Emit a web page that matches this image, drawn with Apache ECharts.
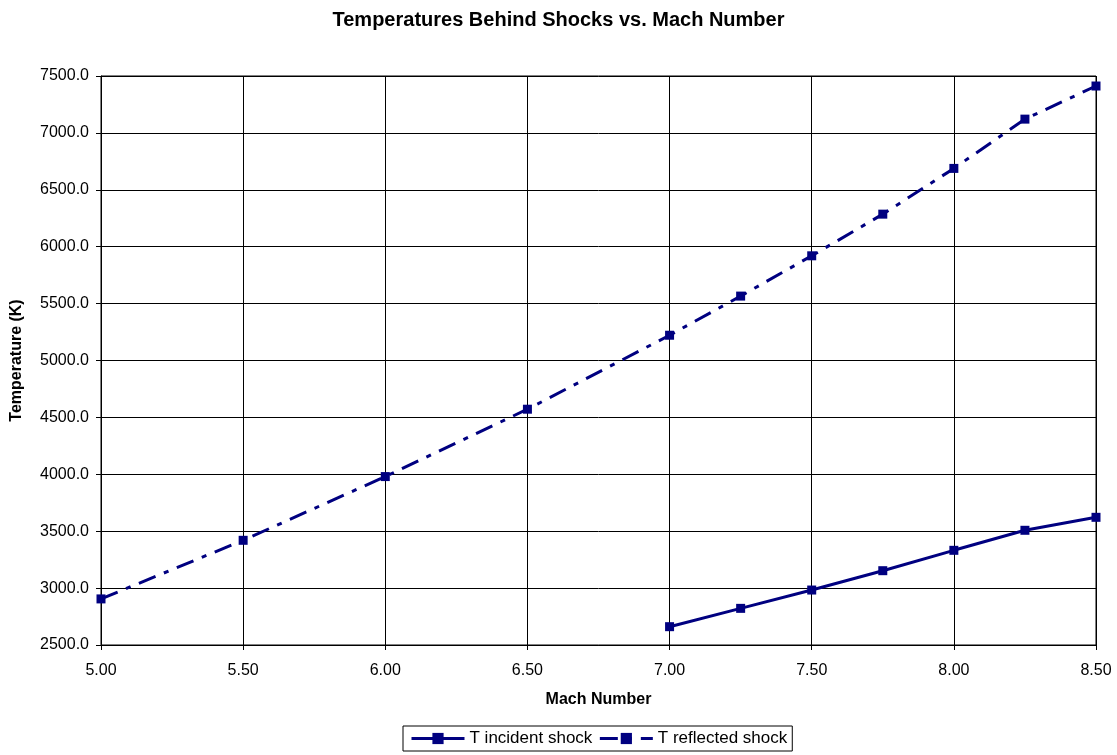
<!DOCTYPE html>
<html>
<head>
<meta charset="utf-8">
<script src="https://cdn.jsdelivr.net/npm/echarts@6/dist/echarts.min.js"></script>
<style>
html,body{margin:0;padding:0;background:#fff;}
#chart{width:1117px;height:755px;}
</style>
</head>
<body>
<div id="chart"></div>
<script>
const titleText = 'Temperatures Behind Shocks vs. Mach Number';
const xAxisName = 'Mach Number';
const yAxisName = 'Temperature (K)';
const seriesNames = ['T incident shock', 'T reflected shock'];
const machIncident = [7.0, 7.25, 7.5, 7.75, 8.0, 8.25, 8.5];
const tIncident = [2661, 2822, 2983, 3153, 3332, 3508, 3622];
const machReflected = [5.0, 5.5, 6.0, 6.5, 7.0, 7.25, 7.5, 7.75, 8.0, 8.25, 8.5];
const tReflected = [2905, 3420, 3980, 4572, 5222, 5566, 5920, 6286, 6688, 7121, 7412];

const zip = (xs, ys) => xs.map((x, i) => [x, ys[i]]);
const navy = '#000080';
const font = 'Liberation Sans, Arial, sans-serif';

const chart = echarts.init(document.getElementById('chart'), null, {renderer: 'canvas'});
chart.setOption({
  animation: false,
  backgroundColor: '#fff',
  title: {
    text: titleText, left: 'center', top: 5,
    textStyle: {fontFamily: font, fontSize: 20, fontWeight: 'bold', color: '#000'}
  },
  grid: {left: 101, right: 21, top: 76, bottom: 110, show: true, borderColor: '#000', borderWidth: 1},
  legend: {
    left: 403, top: 726,
    data: seriesNames,
    itemWidth: 53, itemHeight: 14, itemGap: 6,
    padding: [4, 5, 4, 7],
    borderColor: '#000', borderWidth: 1, borderRadius: 0,
    lineStyle: {width: 3},
    textStyle: {fontFamily: font, fontSize: 17, color: '#000'}
  },
  xAxis: {
    type: 'value', min: 5, max: 8.5, interval: 0.5,
    name: xAxisName, nameLocation: 'middle', nameGap: 47,
    nameTextStyle: {fontFamily: font, fontSize: 16, fontWeight: 'bold', color: '#000'},
    axisLine: {show: true, lineStyle: {color: '#000', width: 1}},
    axisTick: {show: true, length: 5, lineStyle: {color: '#000'}},
    axisLabel: {fontFamily: font, fontSize: 16, color: '#000', margin: 18, formatter: v => v.toFixed(2)},
    splitLine: {show: true, lineStyle: {color: '#000', width: 1}}
  },
  yAxis: {
    type: 'value', min: 2500, max: 7500, interval: 500,
    name: yAxisName, nameLocation: 'middle', nameGap: 76,
    nameTextStyle: {fontFamily: font, fontSize: 16, fontWeight: 'bold', color: '#000'},
    axisLine: {show: true, lineStyle: {color: '#000', width: 1}},
    axisTick: {show: true, length: 5, lineStyle: {color: '#000'}},
    axisLabel: {fontFamily: font, fontSize: 16, color: '#000', margin: 12, formatter: v => v.toFixed(1)},
    splitLine: {show: true, lineStyle: {color: '#000', width: 1}}
  },
  series: [
    {
      name: seriesNames[0], type: 'line', data: zip(machIncident, tIncident),
      symbol: 'rect', symbolSize: 9, showAllSymbol: true,
      lineStyle: {color: navy, width: 3},
      itemStyle: {color: navy}
    },
    {
      name: seriesNames[1], type: 'line', data: zip(machReflected, tReflected),
      symbol: 'rect', symbolSize: 9, showAllSymbol: true,
      lineStyle: {color: navy, width: 3, type: [18, 9, 5, 9]},
      itemStyle: {color: navy}
    }
  ]
});
</script>
</body>
</html>
